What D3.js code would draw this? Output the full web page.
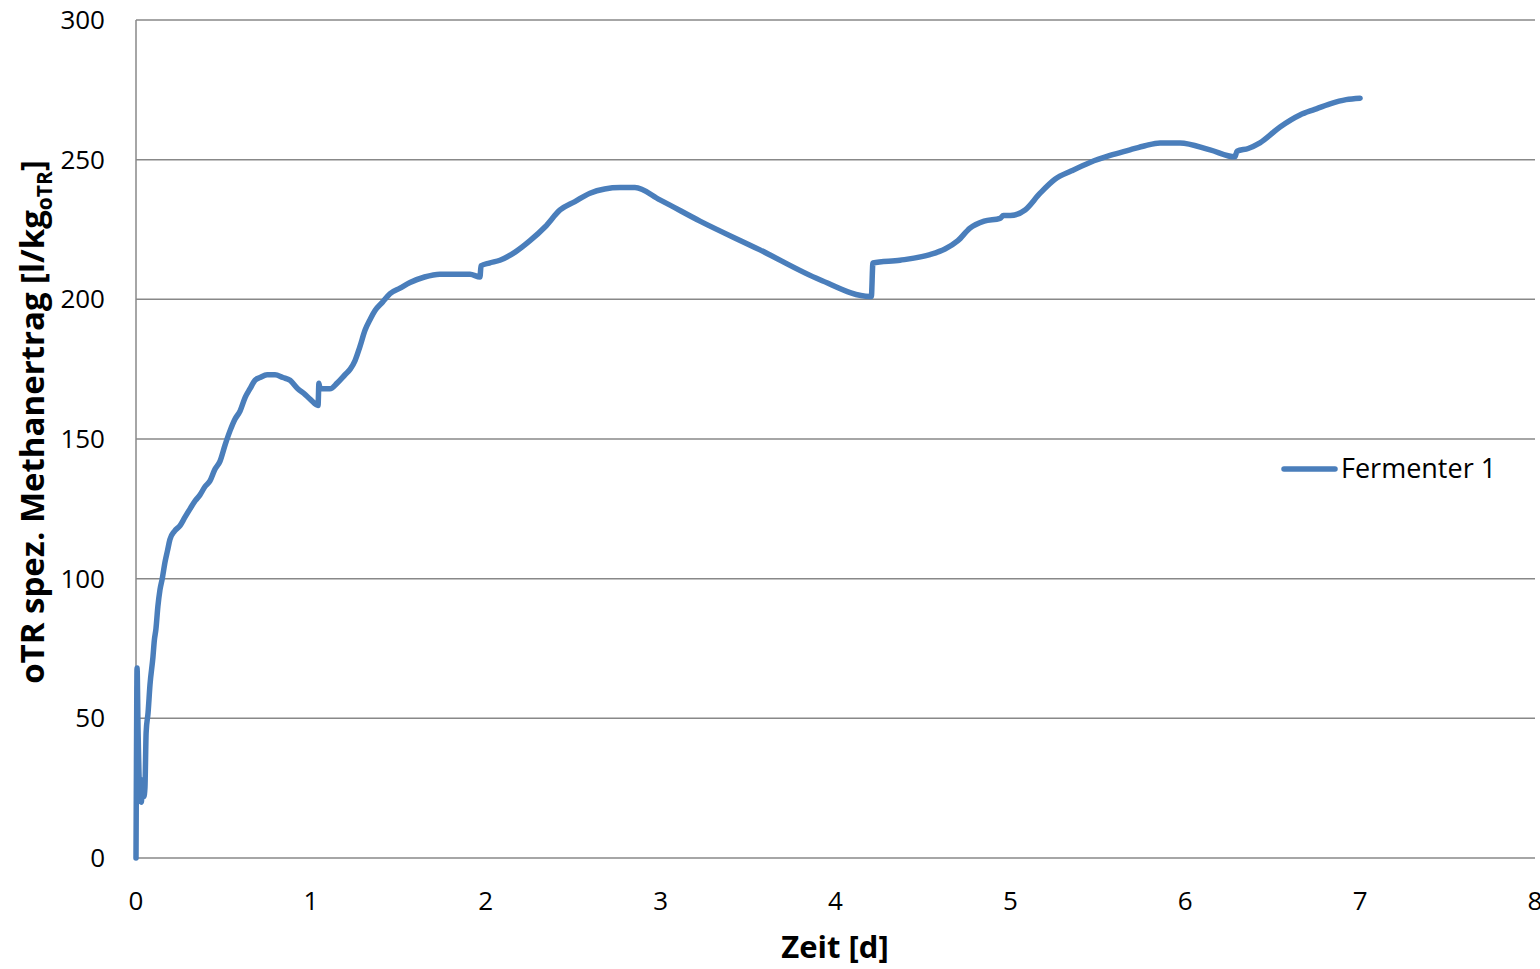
<!DOCTYPE html>
<html><head><meta charset="utf-8">
<script src="https://cdn.jsdelivr.net/npm/d3@7"></script>
<style>body{margin:0;background:#fff}svg{display:block}text{font-family:"Open Sans","Liberation Sans",sans-serif}</style>
</head><body>
<svg id="c" width="1540" height="969"></svg>
<script>
const days = [0,0.003,0.006,0.012,0.02,0.03,0.04,0.045,0.051,0.058,0.069,0.08,0.097,0.105,0.114,0.125,0.137,0.15,0.166,0.18,0.194,0.22,0.252,0.28,0.309,0.34,0.366,0.395,0.423,0.45,0.48,0.51,0.538,0.565,0.595,0.625,0.652,0.68,0.709,0.75,0.795,0.84,0.881,0.925,0.966,1.0,1.041,1.046,1.052,1.08,1.109,1.15,1.195,1.225,1.252,1.28,1.31,1.34,1.367,1.41,1.452,1.51,1.567,1.65,1.738,1.82,1.91,1.967,1.973,2.02,2.081,2.17,2.253,2.34,2.425,2.51,2.596,2.68,2.768,2.853,2.996,3.225,3.568,3.911,4.197,4.205,4.214,4.369,4.54,4.626,4.7,4.769,4.85,4.941,4.96,5.0,5.084,5.17,5.255,5.35,5.455,5.57,5.684,5.77,5.856,5.97,6.142,6.284,6.296,6.36,6.427,6.542,6.656,6.74,6.828,6.92,7.0];
const values = [0,40,68,45,25,20,28,22,25,45,52,62,72,78,82,90,96,100,106,110,114,117,119,122,125,128,130,133,135,139,142,148,153,157,160,165,168,171,172,173,173,172,171,168,166,164,162,170,168,168,168,170,173,175,178,183,189,193,196,199,202,204,206,208,209,209,209,208,212,213,214,217,221,226,232,235,238,239.5,240,240,235.6,228,217.7,207,201,201,213,214,216,218,221,225.5,228,229,230,230,232,238,243,246,249,251.5,253.5,255,256,256,253.5,251,253,254,256,261.7,266,268,270,271.5,272];
const yTicks = [0,50,100,150,200,250,300];
const xTicks = [0,1,2,3,4,5,6,7,8];
const seriesName = "Fermenter 1";

const svg = d3.select("#c");
const m = {l:136, r:1535, t:20, b:858};
const x = d3.scaleLinear().domain([0,8]).range([m.l,m.r]);
const y = d3.scaleLinear().domain([0,300]).range([m.b,m.t]);

svg.append("g").selectAll("line").data(yTicks).join("line")
  .attr("x1",m.l).attr("x2",m.r).attr("y1",d=>y(d)).attr("y2",d=>y(d))
  .attr("stroke","#888").attr("stroke-width",1.5);
svg.append("line").attr("x1",m.l).attr("x2",m.l).attr("y1",m.t).attr("y2",m.b)
  .attr("stroke","#888").attr("stroke-width",1.5);

svg.append("g").selectAll("text").data(yTicks).join("text")
  .attr("x",105).attr("y",d=>y(d)).attr("dy","0.35em").attr("text-anchor","end")
  .attr("font-size",26).attr("fill","#000").text(d=>d);
svg.append("g").selectAll("text").data(xTicks).join("text")
  .attr("x",d=>x(d)).attr("y",901).attr("dy","0.35em").attr("text-anchor","middle")
  .attr("font-size",26).attr("fill","#000").text(d=>d);

svg.append("text").attr("x",835).attr("y",947).attr("dy","0.35em").attr("text-anchor","middle")
  .attr("font-size",31).attr("font-weight","bold").text("Zeit [d]");
const yt = svg.append("text").attr("transform","translate(44,422) rotate(-90)")
  .attr("text-anchor","middle").attr("font-size",33).attr("font-weight","bold");
yt.append("tspan").text("oTR spez. Methanertrag [l/kg");
yt.append("tspan").attr("font-size",21).attr("dy",8).text("oTR");
yt.append("tspan").attr("dy",-8).text("]");

const pts = days.map((d,i)=>[d,values[i]]);
svg.append("path").datum(pts)
  .attr("d",d3.line().x(d=>x(d[0])).y(d=>y(d[1])).curve(d3.curveMonotoneX))
  .attr("fill","none").attr("stroke","#4a7ebb").attr("stroke-width",5.5)
  .attr("stroke-linejoin","round").attr("stroke-linecap","round");

svg.append("line").attr("x1",1284).attr("x2",1335).attr("y1",469).attr("y2",469)
  .attr("stroke","#4a7ebb").attr("stroke-width",5.5).attr("stroke-linecap","round");
svg.append("text").attr("x",1341).attr("y",469).attr("dy","0.35em")
  .attr("font-size",27).text(seriesName);
</script>
</body></html>
